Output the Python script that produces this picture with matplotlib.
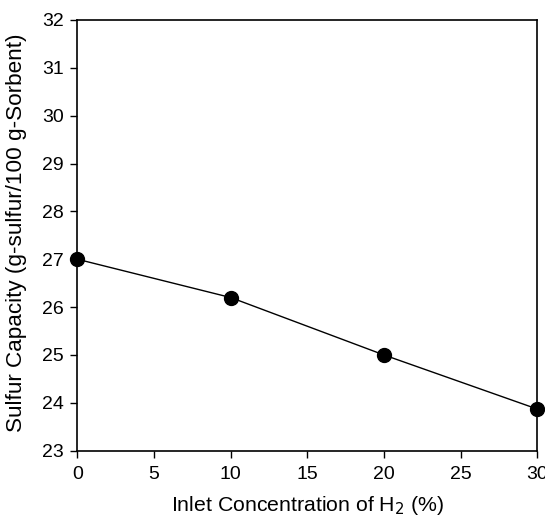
import matplotlib
matplotlib.use("Agg")
import matplotlib.pyplot as plt

plt.rcParams['font.family'] = ['Liberation Sans', 'DejaVu Sans']

h2_conc = [0, 10, 20, 30]
capacity = [27.0, 26.2, 25.0, 23.87]
xticks = [0, 5, 10, 15, 20, 25, 30]
yticks = [23, 24, 25, 26, 27, 28, 29, 30, 31, 32]

fig = plt.figure(figsize=(5.45, 5.19), dpi=100)
ax = fig.add_axes([0.1422, 0.1316, 0.8437, 0.8299])
ax.plot(h2_conc, capacity, color='black', lw=1, marker='o', markersize=10,
        markerfacecolor='black', markeredgecolor='black', clip_on=False, zorder=3)
ax.set_xlim(0, 30)
ax.set_ylim(23, 32)
ax.set_xticks(xticks)
ax.set_yticks(yticks)
ax.tick_params(direction='out', length=5, width=1, labelsize=14, top=False, right=False)
ax.tick_params(axis='x', pad=6)
ax.tick_params(axis='y', pad=5)
for s in ax.spines.values():
    s.set_linewidth(1.2)
ax.set_xlabel('Inlet Concentration of H$_2$ (%)', fontsize=15.3)
ax.set_ylabel('Sulfur Capacity (g-sulfur/100 g-Sorbent)', fontsize=16.2)
ax.xaxis.set_label_coords(0.5, -0.101)
ax.yaxis.set_label_coords(-0.11, 0.505)
fig.savefig('out.png', dpi=100)
